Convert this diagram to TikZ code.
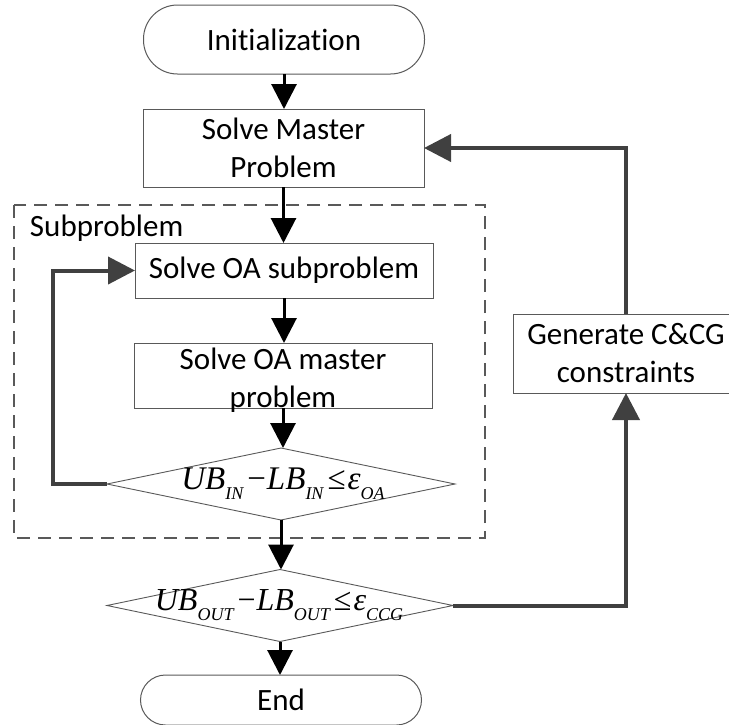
\documentclass[tikz,border=0pt]{standalone}
\usepackage{fontspec}
\setmainfont{Carlito}[Ligatures=NoCommon]
\newfontfamily\mathserif{Liberation Serif}
\usetikzlibrary{shapes.geometric,arrows.meta}

% subscripts for the stopping tests
\newcommand{\lowidx}[1]{\raisebox{-0.3em}{\fontsize{18}{18}\selectfont #1}}

\definecolor{edgegray}{HTML}{595959}
\definecolor{loopgray}{HTML}{404040}

\begin{document}
\begin{tikzpicture}[x=1pt,y=-1pt,
  every node/.style={font=\fontsize{31}{38}\selectfont, inner sep=0pt, outer sep=0pt},
  terminal/.style={draw=edgegray, line width=1pt, rectangle, rounded corners=34pt,
    minimum width=281pt, minimum height=69pt},
  stepbox/.style={draw=edgegray, line width=1pt, rectangle, align=center},
  decision/.style={draw=edgegray, line width=0.9pt, diamond,
    minimum width=348pt, minimum height=72pt},
  flow/.style={draw=black, line width=3pt, -{Triangle[width=25pt,length=25pt]}},
  feedback/.style={draw=loopgray, line width=4pt, -{Triangle[width=27pt,length=27pt]}},
  group/.style={draw=edgegray, line width=1.5pt, dash pattern=on 13pt off 8pt}
]
\useasboundingbox (0,0) rectangle (729,724);
\clip (0,0) rectangle (729,724);

% dashed frame around the inner OA loop
\draw[group] (14,205) rectangle (485,538);
\node[anchor=west] (sublabel) at (30,228) {Subproblem};

% main column
\node[terminal] (init) at (284,39.5) {Initialization};
\node[stepbox, minimum width=281pt, minimum height=78pt] (master) at (283.5,148) {Solve Master\\Problem};
\node[stepbox, minimum width=298pt, minimum height=55pt] (oasub) at (284,270.5) {Solve OA subproblem};
\node[stepbox, minimum width=298pt, minimum height=65pt] (oamaster) at (283,375.5) {};
\node[align=center] (oamastertext) at (283,380) {Solve OA master\\problem};
\node[decision] (inner) at (281,484) {};
\node (innertext) at (283,484) {\mathserif\fontsize{33}{33}\selectfont
  \itshape UB\lowidx{IN}\kern4pt\upshape−\kern1pt\itshape LB\lowidx{IN}\kern4pt\upshape≤\kern2pt\itshape ε\lowidx{OA}};
\node[decision, minimum width=346pt] (outer) at (280,605.5) {};
\node (outertext) at (279,605) {\mathserif\fontsize{32}{32}\selectfont
  \itshape UB\lowidx{OUT}\kern4pt\upshape−\kern1pt\itshape LB\lowidx{OUT}\kern4pt\upshape≤\kern2pt\itshape ε\lowidx{CCG}};
\node[terminal, minimum height=50pt, rounded corners=25pt] (finish) at (281,700) {End};

% side box (runs past the right edge)
\node[stepbox, minimum width=226pt, minimum height=79pt] (gen) at (626,353.5) {Generate C\&CG\\constraints};

% main flow arrows
\draw[flow] (init.south) -- (init.south |- master.north);
\draw[flow] (master.south) -- (master.south |- oasub.north);
\draw[flow] (oasub.south) -- (oasub.south |- oamaster.north);
\draw[flow] (oamaster.south) -- (oamaster.south |- inner.north);
\draw[flow] (inner.south) -- (inner.south |- outer.north);
\draw[flow] (outer.south) -- (outer.south |- finish.north);

% feedback loops
\draw[feedback] (inner.west) -- ++(-54,0) |- (oasub.west);
\draw[feedback] (outer.east) -| (gen.south);
\draw[feedback] (gen.north) |- (master.east);
\end{tikzpicture}
\end{document}
